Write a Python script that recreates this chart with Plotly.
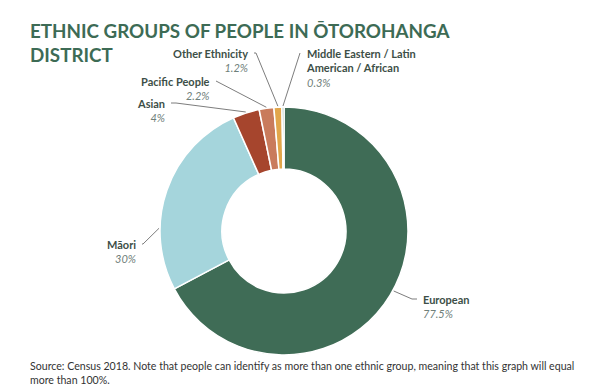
import math
import plotly.graph_objects as go

# ---- data ----
categories = ["European", "Māori", "Asian", "Pacific People", "Other Ethnicity",
              "Middle Eastern / Latin<br>American / African"]
percent_values = [77.5, 30, 4, 2.2, 1.2, 0.3]
percent_labels = ["77.5%", "30%", "4%", "2.2%", "1.2%", "0.3%"]

# ---- style / layout ----
W, H = 600, 388
colors = ["#3f6c56", "#a5d5dc", "#a6452d", "#c97b5c", "#e2a64a", "#7fa38f"]
PIE_X = (160, 408)      # pixel extents of the pie domain
PIE_Y = (107, 355)
HOLE = 0.5
# where in each slice (fraction of its angular span) the leader line touches
anchor_frac = [0.49, 0.31, 0.5, 0.5, 0.5, 0.5]
# label text position (pixel), side, and elbow x (pixel)
label_pos = [
    dict(x=421, y=299, side="left", elbow=412),
    dict(x=138, y=244, side="right", elbow=143),
    dict(x=167, y=103, side="right", elbow=176),
    dict(x=212, y=81, side="right", elbow=216),
    dict(x=250, y=53, side="right", elbow=256),
    dict(x=304, y=53, side="left", elbow=300),
]
NAME_COLOR = "#3d4f47"
PCT_COLOR = "#6f807a"
LINE_COLOR = "#7d7d7d"
FONT = "Lato"


def px(x):
    return x / W


def py(y):
    return 1 - y / H


fig = go.Figure(go.Pie(
    labels=[c.replace("<br>", " ") for c in categories],
    values=percent_values,
    hole=HOLE,
    sort=False,
    direction="clockwise",
    rotation=0,
    marker=dict(colors=colors, line=dict(color="white", width=1.5)),
    textinfo="none",
    hoverinfo="label+value",
    domain=dict(x=[px(PIE_X[0]), px(PIE_X[1])], y=[py(PIE_Y[1]), py(PIE_Y[0])]),
    showlegend=False,
))

cx = (PIE_X[0] + PIE_X[1]) / 2
cy = (PIE_Y[0] + PIE_Y[1]) / 2
R = (PIE_X[1] - PIE_X[0]) / 2

total = sum(percent_values)
start = 0.0
annotations = []
shapes = []
for i, v in enumerate(percent_values):
    span = v / total * 360
    ang = math.radians(start + span * anchor_frac[i])
    start += span
    ax = cx + (R + 1) * math.sin(ang)
    ay = cy - (R + 1) * math.cos(ang)
    lp = label_pos[i]
    ly = lp["y"]
    ex = lp["elbow"]
    tx = lp["x"] + (4 if lp["side"] == "right" else -4)
    path = f"M {px(ax)} {py(ay)} L {px(ex)} {py(ly)} L {px(tx)} {py(ly)}"
    shapes.append(dict(type="path", xref="paper", yref="paper", path=path,
                       line=dict(color=LINE_COLOR, width=1)))
    name = categories[i]
    text = (f"<b>{name}</b><br><i><span style='color:{PCT_COLOR}'>"
            f"{percent_labels[i]}</span></i>")
    annotations.append(dict(
        x=px(lp["x"]), y=py(ly - 8), xref="paper", yref="paper",
        xanchor="right" if lp["side"] == "right" else "left",
        yanchor="top", align=lp["side"], showarrow=False,
        text=text, font=dict(family=FONT, size=11, color=NAME_COLOR),
    ))

# title
annotations.append(dict(
    x=px(28), y=py(17), xref="paper", yref="paper", xanchor="left", yanchor="top",
    align="left", showarrow=False,
    text="<b>ETHNIC GROUPS OF PEOPLE IN ŌTOROHANGA<br>DISTRICT</b>",
    font=dict(family=FONT, size=18.8, color="#3d6b55"),
))
# footnote
annotations.append(dict(
    x=px(28), y=py(358), xref="paper", yref="paper", xanchor="left", yanchor="top",
    align="left", showarrow=False,
    text=("Source: Census 2018. Note that people can identify as more than one ethnic group, "
          "meaning that this graph will equal<br>more than 100%."),
    font=dict(family=FONT, size=10.6, color="#333333"),
))

fig.update_layout(
    width=W, height=H,
    margin=dict(l=0, r=0, t=0, b=0),
    paper_bgcolor="white", plot_bgcolor="white",
    annotations=annotations, shapes=shapes,
)
fig.write_html("out.html", config={"displayModeBar": False},
               post_script="document.body.style.margin='0';")
